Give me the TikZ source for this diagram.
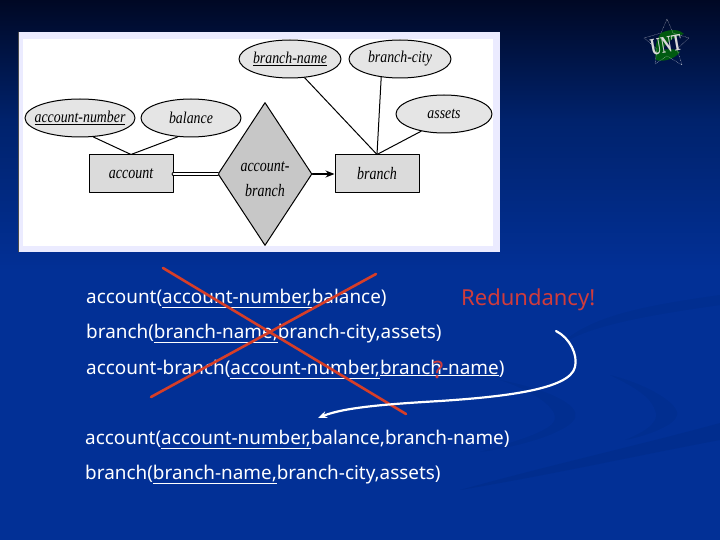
\documentclass[tikz,border=0pt]{standalone}
\usepackage{fontspec}
\setmainfont{Noto Sans}
\newfontfamily\erfont{Liberation Serif}
\usetikzlibrary{shapes.geometric,arrows.meta}
\definecolor{bgtop}{RGB}{0,8,36}
\definecolor{bgmid}{RGB}{0,34,108}
\definecolor{bgbot}{RGB}{2,48,150}
\definecolor{crossred}{RGB}{214,62,40}
\definecolor{notered}{RGB}{208,60,60}
\newcommand{\ertext}[2][0.84]{\makebox[0pt]{\scalebox{#1}[1]{#2}}}
\begin{document}
\begin{tikzpicture}[x=1pt,y=-1pt,line join=round,line cap=round,>={Stealth[length=9pt,width=7pt]}]
	\tikzset{
		attrib/.style={ellipse,draw=black,line width=1pt,fill=black!10,minimum width=#1,minimum height=38pt,inner sep=0pt,font=\erfont\itshape\fontsize{16.5}{16.5}\selectfont},
		entity/.style={rectangle,draw=black,line width=1pt,fill=black!14,minimum width=84pt,minimum height=38pt,inner sep=0pt,font=\erfont\itshape\fontsize{17.5}{17.5}\selectfont},
		relship/.style={diamond,draw=black,line width=1pt,fill=black!22,minimum width=94pt,minimum height=143pt,inner sep=0pt,align=center,font=\erfont\itshape\fontsize{17.5}{25}\selectfont},
		rowtext/.style={anchor=base west,text=white,inner sep=0pt,font=\fontsize{18.9}{18.9}\selectfont},
		notetext/.style={text=notered,inner sep=0pt},
		crossline/.style={crossred,line width=2.6pt}
	}
	\useasboundingbox (0,0) rectangle (720,540);
	% background
	\shade[top color=bgtop,bottom color=bgmid] (0,0) rectangle (720,120);
	\shade[top color=bgmid,bottom color=bgbot] (0,120) rectangle (720,270);
	\fill[bgbot] (0,270) rectangle (720,540);
	\fill[black,opacity=0.04] (720,295) .. controls (650,305) and (590,315) .. (560,345) .. controls (590,325) and (650,315) .. (720,305) -- cycle;
	\fill[black,opacity=0.05] (720,423) .. controls (640,445) and (550,465) .. (460,490) .. controls (550,475) and (640,455) .. (720,440) -- cycle;
	\fill[black,opacity=0.04] (610,375) .. controls (650,385) and (680,405) .. (677,415) .. controls (675,425) and (650,435) .. (625,440) .. controls (650,430) and (660,420) .. (655,410) .. controls (650,395) and (630,385) .. (610,375) -- cycle;
	\fill[black,opacity=0.04] (500,380) .. controls (550,390) and (580,405) .. (575,418) .. controls (570,430) and (530,445) .. (480,452) .. controls (520,440) and (555,430) .. (555,418) .. controls (555,405) and (530,390) .. (500,380) -- cycle;
	% logo
	\fill[green!45!black,opacity=0.75] (661,33) .. controls (672,28) and (680,30) .. (684,34) .. controls (676,36) and (668,40) .. (662,50) .. controls (672,48) and (678,50) .. (680,52) .. controls (674,60) and (662,62) .. (656,60) .. controls (654,50) and (656,40) .. (661,33) -- cycle;
	\draw[white,densely dotted,opacity=0.7] (667,19) -- (673,33) -- (689,38) -- (677,49) -- (682,65) -- (667,56) -- (655,64) -- (657,49) -- (644,38) -- (661,33) -- cycle;
	\node[text=black!15,inner sep=0pt,rotate=10,font=\erfont\bfseries\fontsize{24}{24}\selectfont] (logo) at (666,45) {\ertext[0.62]{UNT}};
	% E-R picture
	\fill[blue!8!white] (18,32) rectangle (500,252);
	\fill[white] (23,39) rectangle (493,246);
	\draw[black!70] (18,32) -- (18,252);
	\node[attrib=110pt] (accnum) at (80,118) {\ertext{\underline{account-number}}};
	\node[attrib=100pt] (bal) at (191,118) {\ertext{balance}};
	\node[attrib=102pt] (brname) at (290,59) {\ertext{\underline{branch-name}}};
	\node[attrib=102pt] (brcity) at (400,59) {\ertext{branch-city}};
	\node[attrib=96pt] (assets) at (444,114) {\ertext{assets}};
	\node[entity] (acc) at (131,174) {\ertext[0.8]{account}};
	\node[entity] (br) at (377,174) {\ertext[0.8]{branch}};
	\node[relship] (accbr) at (265,174) {\rule{0pt}{20pt}\ertext[0.8]{account-}\\\ertext[0.8]{branch}};
	\draw[line width=1pt] (accnum.-55)--(acc.north);
	\draw[line width=1pt] (bal.-125)--(acc.north);
	\draw[line width=1pt] (brname.-52)--(br.north);
	\draw[line width=1pt] (brcity.-136)--(br.north);
	\draw[line width=1pt] (assets.-143)--(br.north);
	\draw[line width=0.9pt,double,double distance=2pt] (acc.east)--(accbr.west);
	\draw[->,line width=1.2pt] (accbr.east)--(br.west);
	% relations
	\node[rowtext] (rowa) at (86,303) {account(\underline{account-number,}balance)};
	\node[rowtext] (rowb) at (86,338) {branch(\underline{branch-name,}branch-city,assets)};
	\node[rowtext] (rowc) at (86,374) {account-branch(\underline{account-number,}\underline{branch-name})};
	\node[rowtext] (rowd) at (85,444) {account(\underline{account-number,}balance,branch-name)};
	\node[rowtext] (rowe) at (85,479) {branch(\underline{branch-name,}branch-city,assets)};
	\node[notetext,anchor=base west,font=\fontsize{22}{22}\selectfont] (redund) at (461,305) {Redundancy!};
	% cross
	\coordinate (xa) at (163,268);
	\coordinate (xb) at (406,414);
	\coordinate (xc) at (376,274);
	\coordinate (xd) at (151,397);
	\draw[crossline] (xa)--(xb);
	\draw[crossline] (xc)--(xd);
	\node[notetext,anchor=base,font=\fontsize{24}{24}\selectfont] (quest) at (438,378) {?};
	% arrow
	\coordinate (arra) at (556,331);
	\coordinate (arrb) at (318,418);
	\draw[->,white,line width=2.2pt] (arra) .. controls (570,338) and (578,355) .. (575,367) .. controls (570,390) and (500,397) .. (440,401) .. controls (390,404) and (345,407) .. (arrb);
\end{tikzpicture}
\end{document}
